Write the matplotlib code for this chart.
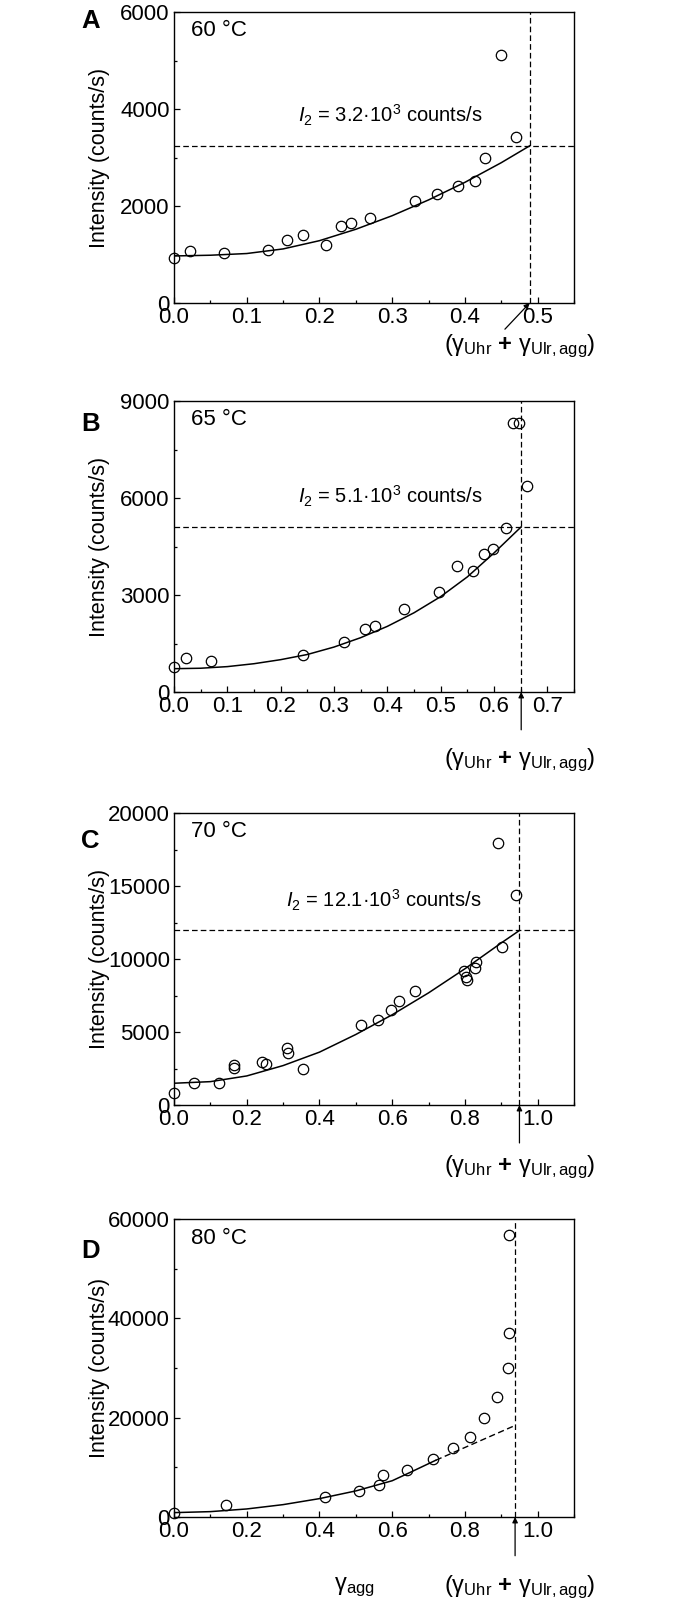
import matplotlib
matplotlib.use('Agg')
import matplotlib.pyplot as plt
from matplotlib.ticker import MultipleLocator, FormatStrFormatter

plt.rcParams['font.family'] = ['Liberation Sans', 'DejaVu Sans']
plt.rcParams['mathtext.fontset'] = 'custom'
plt.rcParams['mathtext.rm'] = 'Liberation Sans'
plt.rcParams['mathtext.it'] = 'Liberation Sans:italic'
plt.rcParams['mathtext.bf'] = 'Liberation Sans:bold'

# ---------------- data ----------------
panel_letters = ['A', 'B', 'C', 'D']
temperatures = ['60 °C', '65 °C', '70 °C', '80 °C']

a_gamma = [0.0, 0.022, 0.069, 0.129, 0.155, 0.177, 0.209, 0.229, 0.244, 0.269,
           0.332, 0.361, 0.390, 0.414, 0.427, 0.450, 0.470]
a_int = [925, 1080, 1025, 1100, 1290, 1400, 1190, 1580, 1655, 1745,
         2095, 2240, 2410, 2510, 2990, 5110, 3420]
a_fit_x = [0, 0.05, 0.1, 0.15, 0.2, 0.25, 0.3, 0.35, 0.4, 0.45, 0.489]
a_fit_y = [970, 985, 1020, 1115, 1285, 1520, 1800, 2125, 2488, 2893, 3240]

b_gamma = [0.0, 0.022, 0.069, 0.241, 0.319, 0.359, 0.376, 0.431, 0.497, 0.530,
           0.561, 0.582, 0.598, 0.623, 0.635, 0.647, 0.661]
b_int = [780, 1060, 956, 1141, 1541, 1933, 2047, 2559, 3104, 3885,
         3731, 4260, 4420, 5070, 8320, 8320, 6385]
b_fit_x = [0, 0.05, 0.1, 0.15, 0.2, 0.25, 0.3, 0.35, 0.4, 0.45, 0.5, 0.55, 0.6, 0.651]
b_fit_y = [721, 735, 785, 875, 1000, 1160, 1390, 1680, 2030, 2450, 2950, 3560, 4300, 5108]

c_gamma = [0.0, 0.054, 0.124, 0.166, 0.166, 0.243, 0.252, 0.310, 0.314, 0.355,
           0.515, 0.560, 0.598, 0.618, 0.662, 0.798, 0.802, 0.805, 0.828, 0.831,
           0.903, 0.890, 0.940]
c_int = [800, 1490, 1490, 2740, 2510, 2930, 2830, 3890, 3590, 2450,
         5490, 5850, 6510, 7150, 7790, 9210, 8800, 8530, 9390, 9780,
         10790, 17920, 14350]
c_fit_x = [0, 0.1, 0.2, 0.3, 0.4, 0.5, 0.6, 0.7, 0.8, 0.9, 0.95]
c_fit_y = [1490, 1600, 1990, 2700, 3620, 4830, 6180, 7680, 9330, 11100, 11954]

d_gamma = [0.0, 0.143, 0.415, 0.509, 0.563, 0.574, 0.641, 0.712, 0.767, 0.813,
           0.853, 0.889, 0.918, 0.921, 0.921]
d_int = [870, 2350, 3970, 5310, 6520, 8400, 9480, 11630, 13850, 16140,
         19900, 24080, 29990, 37120, 56760]
d_fit_x = [0, 0.1, 0.2, 0.3, 0.4, 0.5, 0.6, 0.65, 0.72]
d_fit_y = [880, 1080, 1620, 2490, 3700, 5250, 7300, 9000, 11430]
d_ext_x = [0.72, 0.938]
d_ext_y = [11430, 18430]

limit_gamma = [0.489, 0.651, 0.950, 0.938]       # (gamma_Uhr + gamma_Ulr,agg)
plateau_I2 = [3240, 5108, 11954, None]
plateau_text = ['3.2', '5.1', '12.1', None]

x_max = [0.55, 0.75, 1.1, 1.1]
x_major = [0.1, 0.1, 0.2, 0.2]
x_minor = [0.05, 0.05, 0.1, 0.1]
y_max = [6000, 9000, 20000, 60000]
y_major = [2000, 3000, 5000, 20000]
y_minor = [1000, 1500, 2500, 10000]

gammas = [a_gamma, b_gamma, c_gamma, d_gamma]
intens = [a_int, b_int, c_int, d_int]
fits_x = [a_fit_x, b_fit_x, c_fit_x, d_fit_x]
fits_y = [a_fit_y, b_fit_y, c_fit_y, d_fit_y]

# ---------------- layout ----------------
W, H = 674, 1600
fig = plt.figure(figsize=(W / 100, H / 100), dpi=100)

ax_left, ax_right = 174, 574
ax_tops = [12, 401, 813, 1219]
ax_bots = [303, 692, 1105, 1517]
letter_tops = [9, 412, 829, 1239]
sum_label_y = [-0.15, -0.235, -0.215, -0.235]

tick_fs = 16
label_fs = 15.5
dash = (4.5, 2.5)

sum_label = r'$(\mathrm{γ}_{\mathrm{Uhr}}\ \mathbf{+}\ \mathrm{γ}_{\mathrm{Ulr,agg}})$'

for i in range(4):
    top, bot = ax_tops[i], ax_bots[i]
    ax = fig.add_axes([ax_left / W, 1 - bot / H, (ax_right - ax_left) / W, (bot - top) / H])
    ax.set_xlim(0, x_max[i])
    ax.set_ylim(0, y_max[i])
    for s in ax.spines.values():
        s.set_linewidth(1.0)
    ax.xaxis.set_major_locator(MultipleLocator(x_major[i]))
    ax.xaxis.set_minor_locator(MultipleLocator(x_minor[i]))
    ax.yaxis.set_major_locator(MultipleLocator(y_major[i]))
    ax.yaxis.set_minor_locator(MultipleLocator(y_minor[i]))
    ax.xaxis.set_major_formatter(FormatStrFormatter('%.1f'))
    ax.tick_params(which='both', direction='in', top=False, right=False,
                   labelsize=tick_fs, width=0.9, pad=3)
    ax.tick_params(which='major', length=4)
    ax.tick_params(which='minor', length=2.5)

    ax.set_ylabel('Intensity (counts/s)', fontsize=label_fs)
    ax.yaxis.set_label_coords(-0.16, 0.5)

    # fit curve
    ax.plot(fits_x[i], fits_y[i], color='k', lw=1.1, zorder=3)
    if i == 3:
        ax.plot(d_ext_x, d_ext_y, color='k', lw=1.0, dashes=dash, zorder=3)

    # data
    ax.plot(gammas[i], intens[i], linestyle='none', marker='o', ms=7.5,
            mfc='none', mec='k', mew=0.9, zorder=4, clip_on=False)

    # guide lines
    ax.axvline(limit_gamma[i], color='k', lw=0.9, dashes=dash, zorder=2)
    if plateau_I2[i] is not None:
        ax.axhline(plateau_I2[i], color='k', lw=0.9, dashes=dash, zorder=2)
        ax.text(0.77, plateau_I2[i] / y_max[i] + 0.08,
                r'$I_2$ = ' + plateau_text[i] + r'·10$^3$ counts/s',
                transform=ax.transAxes, ha='right', va='baseline', fontsize=14.5)

    # temperature
    ax.text(0.043, 0.935, temperatures[i], transform=ax.transAxes,
            ha='left', va='center', fontsize=16)

    # arrow + sum label
    if i == 0:
        ax.annotate('', xy=(limit_gamma[i], 0), xycoords=('data', 'axes fraction'),
                    xytext=(0.455 / x_max[i], -0.09), textcoords='axes fraction',
                    arrowprops=dict(arrowstyle='-|>', color='k', lw=0.9,
                                    mutation_scale=8, shrinkA=0, shrinkB=0),
                    annotation_clip=False)
    else:
        ax.annotate('', xy=(limit_gamma[i], 0), xycoords=('data', 'axes fraction'),
                    xytext=(limit_gamma[i], -0.13), textcoords=('data', 'axes fraction'),
                    arrowprops=dict(arrowstyle='-|>', color='k', lw=0.9,
                                    mutation_scale=8, shrinkA=0, shrinkB=0),
                    annotation_clip=False)
    ax.text(0.865, sum_label_y[i], sum_label, transform=ax.transAxes,
            ha='center', va='center', fontsize=17)

    if i == 3:
        ax.text(0.45, sum_label_y[i], r'$\mathrm{γ}_{\mathrm{agg}}$', transform=ax.transAxes,
                ha='center', va='center', fontsize=17)

    fig.text(81 / W, 1 - letter_tops[i] / H, panel_letters[i], fontsize=18.5,
             fontweight='bold', ha='left', va='top')

fig.savefig('out.png', dpi=100)
